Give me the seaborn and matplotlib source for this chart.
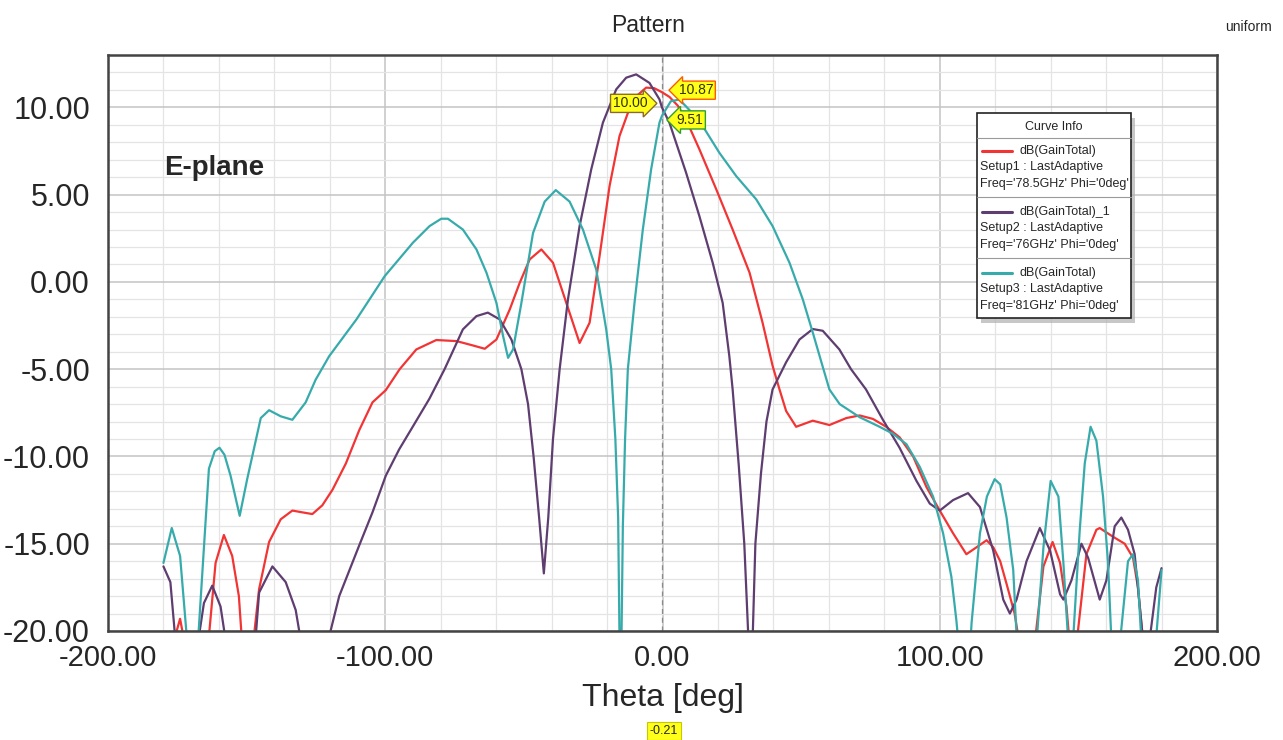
import numpy as np
import pandas as pd
import seaborn as sns
import matplotlib.pyplot as plt
from matplotlib.patches import Rectangle
from matplotlib.lines import Line2D

# E-plane gain pattern (values below -20 are off-scale nulls)
theta_81 = [-180, -177, -174, -171.5, -170, -167.5, -163.6, -161.5, -159.8, -158, -155.8, -152.5,
            -149.8, -144.9, -141.9, -137.7, -133.5, -128.7, -125.1, -120.2, -110.4, -100.2,
            -90.0, -84.0, -79.8, -77.4, -72.0, -67.1, -63.5, -59.9, -57.5, -55.7,
            -53.9, -51.0, -46.7, -42.5, -38.5, -33.5, -28.7, -23.9, -20.3, -18.5,
            -17.0, -16.0, -15.5, -15.2, -14.8, -14.3, -13.5, -12.5, -10.1, -7.1,
            -4.1, -1.1, -0.21, 3.0, 6.1, 10.0, 14.5, 20.5, 26.6, 33.8,
            39.7, 45.8, 50.6, 54.2, 57.5, 60.2, 63.9, 71.1, 78.3, 83.1,
            88.0, 92.8, 97.6, 101.2, 104.2, 106.0, 107.5, 109.0, 110.5, 111.5,
            114.5, 117.0, 119.8, 121.8, 124.1, 126.5, 127.8, 130.0, 133.0, 135.0,
            137.4, 140.0, 142.8, 144.6, 146.3, 147.2, 148.1, 150.5, 152.3, 154.4,
            156.5, 158.9, 160.7, 161.9, 163.3, 165.1, 167.9, 169.7, 171.5, 172.7,
            175.3, 178.0, 180]
gain_81 = [-16.1, -14.1, -15.7, -20.5, -24, -20.5, -10.7, -9.7, -9.5, -9.9, -11.1, -13.4,
           -11.3, -7.8, -7.35, -7.7, -7.9, -6.9, -5.6, -4.25, -2.15, 0.33,
           2.25, 3.2, 3.62, 3.62, 3.0, 1.86, 0.53, -1.2, -3.1, -4.35,
           -3.87, -1.3, 2.8, 4.6, 5.26, 4.6, 3.0, 0.71, -2.72, -5.0,
           -9.0, -13.5, -20.5, -28, -20.5, -14.0, -9.0, -5.0, -1.2, 3.0,
           6.45, 9.12, 9.51, 10.35, 10.45, 9.8, 8.93, 7.4, 6.06, 4.73,
           3.2, 1.1, -1.0, -2.9, -4.7, -6.16, -7.0, -7.75, -8.3, -8.7,
           -9.3, -10.6, -12.3, -14.4, -16.9, -19.4, -22, -26, -22, -19.5,
           -14.4, -12.3, -11.3, -11.6, -13.5, -16.5, -20.5, -26, -26, -20.5,
           -15.2, -11.4, -12.3, -16.1, -20.5, -24, -20.5, -14.2, -10.4, -8.3,
           -9.1, -12.3, -16.1, -20.5, -25, -20.5, -16.0, -15.6, -17.1, -20.5,
           -27, -20.5, -16.5]

theta_785 = [-180, -177, -174, -172, -169, -164, -161.2, -158.2, -155.2, -152.8,
             -151.5, -149.5, -147.5, -145.5, -141.9, -137.7, -133.5, -130, -126.3, -122.7,
             -119, -114.2, -109.4, -104.6, -99.8, -94.8, -88.8, -81.6, -74.3, -68.4,
             -64.1, -59.9, -55.1, -51.5, -47.9, -43.7, -39.5, -34.7, -29.9, -26.3,
             -22.7, -19.1, -15.5, -10.7, -5.9, -3.0, -0.21, 2.5, 5.5, 8.5,
             13.3, 19.4, 25.3, 31.4, 36.1, 39.7, 42.2, 44.6, 48.2, 54.2,
             60.2, 66.3, 71.1, 75.9, 80.7, 85.5, 90.4, 95.2, 100, 104.8,
             109.6, 113.3, 116.9, 119.3, 121.8, 124.1, 127, 129, 131.5, 134.4,
             137.4, 140.7, 143.4, 145.7, 147, 148.2, 149.5, 152.9, 156.5, 157.7,
             162.5, 166.7, 169.7, 171.5, 173.3, 176, 180]
gain_785 = [-24, -21, -19.3, -21, -26, -21, -16.1, -14.5, -15.7, -18.0,
            -21, -25, -20.5, -17.6, -14.9, -13.6, -13.1, -13.2, -13.3, -12.8,
            -11.9, -10.4, -8.5, -6.9, -6.2, -5.0, -3.87, -3.33, -3.39, -3.64,
            -3.83, -3.3, -1.58, -0.05, 1.29, 1.86, 1.1, -1.2, -3.5, -2.34,
            1.48, 5.49, 8.36, 10.46, 11.13, 11.1, 10.87, 10.6, 10.1, 9.3,
            7.6, 5.3, 3.0, 0.53, -2.34, -4.8, -6.16, -7.4, -8.3, -7.95,
            -8.2, -7.8, -7.65, -7.85, -8.3, -8.9, -10.0, -11.75, -13.1, -14.4,
            -15.6, -15.2, -14.8, -15.2, -16.0, -17.3, -19, -21, -25, -20.5,
            -16.3, -14.9, -16.1, -18.6, -21, -24, -20.5, -15.6, -14.2, -14.1,
            -14.6, -15.0, -15.8, -17.5, -20.5, -26, -24]

theta_76 = [-180, -177.5, -175.7, -173, -169, -167.2, -165.4, -162.4, -159.4, -157.6,
            -154, -149, -146.7, -145.5, -140.7, -135.9, -132.3, -130.5, -126, -121.5,
            -120.2, -116.6, -109.4, -104.6, -99.8, -95, -90.1, -84.1, -78.6, -72.0,
            -67.1, -63.0, -58.7, -54.5, -50.9, -48.5, -46.5, -44.5, -42.8, -41.2,
            -39.5, -37.1, -34.1, -29.9, -25.7, -21.5, -16.7, -13.1, -9.5, -4.7,
            -1.1, -0.21, 2.5, 8.5, 13.3, 18.1, 21.7, 24.1, 25.3, 27.5,
            29.5, 31.0, 31.6, 32.5, 33.5, 35.5, 37.5, 39.7, 44.6, 49.4,
            54.2, 57.8, 63.8, 68.0, 73.4, 79.5, 85.5, 91.6, 96.4, 100,
            104.8, 110.2, 114.5, 119.3, 122.9, 125.3, 127.7, 131.3, 136.1, 139.8,
            143.4, 144.6, 147.5, 151.1, 153.5, 157.7, 160.1, 163.1, 165.5, 167.9,
            170.3, 173.3, 174.5, 175.7, 178.1, 180]
gain_76 = [-16.3, -17.2, -20.5, -25, -22, -20.3, -18.4, -17.4, -18.6, -20.5,
           -26, -23, -20.3, -17.8, -16.3, -17.2, -18.8, -20.5, -26, -21.5,
           -20.3, -18.0, -15.1, -13.2, -11.1, -9.6, -8.3, -6.7, -5.0, -2.72,
           -1.96, -1.76, -2.15, -3.3, -5.0, -7.0, -10.0, -13.5, -16.7, -13.5,
           -9.0, -5.0, -1.0, 3.2, 6.45, 9.12, 11.03, 11.7, 11.89, 11.4,
           10.46, 10.0, 9.12, 6.26, 3.77, 1.1, -1.2, -4.25, -6.16, -10.5,
           -15.0, -20.5, -28, -20.5, -15.0, -11.0, -8.0, -6.16, -4.6, -3.3,
           -2.7, -2.8, -3.87, -5.0, -6.16, -7.9, -9.5, -11.4, -12.7, -13.1,
           -12.5, -12.1, -12.9, -15.4, -18.2, -19.0, -18.2, -16.0, -14.1, -15.4,
           -17.9, -18.2, -17.1, -15.0, -15.8, -18.2, -17.1, -14.0, -13.5, -14.2,
           -15.6, -20.5, -24, -20.5, -17.5, -16.4]

curve_names = ["dB(GainTotal) 78.5GHz", "dB(GainTotal)_1 76GHz", "dB(GainTotal) 81GHz"]
curve_colors = ["#f23434", "#5e3d70", "#37abab"]
legend_lines = [
    ["dB(GainTotal)", "Setup1 : LastAdaptive", "Freq='78.5GHz' Phi='0deg'"],
    ["dB(GainTotal)_1", "Setup2 : LastAdaptive", "Freq='76GHz' Phi='0deg'"],
    ["dB(GainTotal)", "Setup3 : LastAdaptive", "Freq='81GHz' Phi='0deg'"],
]
marker_theta = -0.21
marker_vals = [10.87, 10.00, 9.51]

df = pd.concat([
    pd.DataFrame({"theta": theta_785, "gain": gain_785, "curve": curve_names[0]}),
    pd.DataFrame({"theta": theta_76, "gain": gain_76, "curve": curve_names[1]}),
    pd.DataFrame({"theta": theta_81, "gain": gain_81, "curve": curve_names[2]}),
])

sns.set_style("white")
plt.rcParams["font.family"] = ["Liberation Sans", "DejaVu Sans"]
plt.rcParams["axes.unicode_minus"] = False

W, H = 1283, 740
fig = plt.figure(figsize=(W / 100, H / 100), dpi=100)
ax = fig.add_axes([108 / W, 1 - 631 / H, (1217 - 108) / W, (631 - 55) / H])


def fx(px):
    return px / W


def fy(py):
    return 1 - py / H


sns.lineplot(data=df, x="theta", y="gain", hue="curve", hue_order=curve_names,
             palette=curve_colors, linewidth=1.6, legend=False, errorbar=None, ax=ax)

ax.set_xlim(-200, 200)
ax.set_ylim(-20, 13)
ax.set_xticks(np.arange(-200, 201, 100))
ax.set_xticks(np.arange(-200, 201, 20), minor=True)
ax.set_yticks(np.arange(-20, 11, 5))
ax.set_yticks(np.arange(-20, 14, 1), minor=True)
ax.set_xticklabels([f"{v:.2f}" for v in np.arange(-200, 201, 100)], fontsize=21)
ax.set_yticklabels([f"{v:.2f}" for v in np.arange(-20, 11, 5)], fontsize=22)
ax.grid(which="major", color="#c4c4c4", lw=1.1)
ax.grid(which="minor", color="#e4e4e4", lw=0.9)
ax.set_axisbelow(True)
ax.tick_params(which="major", direction="out", length=7, width=1.2, color="#444444")
ax.tick_params(which="minor", direction="out", length=4, width=1.0, color="#444444")
ax.tick_params(axis="x", which="major", pad=2)
ax.tick_params(axis="y", which="major", pad=6)
for s in ax.spines.values():
    s.set_color("#444444")
    s.set_linewidth(1.8)
ax.set_xlabel("Theta [deg]", fontsize=23, labelpad=8)
ax.set_ylabel("")

# marker line and tags
ax.axvline(marker_theta, color="#8a8a8a", lw=0.9, ls=(0, (4, 3)), zorder=1)
tag_style = [("larrow", "#ff5a00", (34, 2)), ("rarrow", "#8a6a2a", (-32, 4)), ("larrow", "#2ca02c", (28, -4))]
for v, (box, ec, off) in zip(marker_vals, tag_style):
    ax.annotate(f"{v:.2f}", xy=(marker_theta, v), xytext=off, textcoords="offset pixels",
                ha="center", va="center", fontsize=10, color="#333300",
                bbox=dict(boxstyle=f"{box},pad=0.15", fc="#ffff1a", ec=ec, lw=1.0), zorder=6)

ax.text(0.051, 0.804, "E-plane", transform=ax.transAxes, fontsize=20, fontweight="bold",
        va="center", ha="left")

fig.text(fx(648), fy(25), "Pattern", fontsize=16.5, ha="center", va="center")
fig.text(fx(1248), fy(27), "uniform", fontsize=10, ha="center", va="center")
fig.text(fx(664), fy(731), "-0.21", fontsize=9, ha="center", va="center",
         bbox=dict(boxstyle="square,pad=0.25", fc="#ffff1a", ec="#c8c800", lw=0.8))

# Curve Info box
bx0, bx1, by0, by1 = 977, 1131, 113, 318
fig.patches.append(Rectangle((fx(bx0 + 4), fy(by1 + 5)), fx(bx1 - bx0), (by1 - by0) / H,
                             transform=fig.transFigure, fc="#b0b0b0", ec="none", alpha=0.7, zorder=8))
fig.patches.append(Rectangle((fx(bx0), fy(by1)), fx(bx1 - bx0), (by1 - by0) / H,
                             transform=fig.transFigure, fc="white", ec="#222222", lw=1.2, zorder=9))
fig.text(fx((bx0 + bx1) / 2), fy(127), "Curve Info", fontsize=9, ha="center", va="center", zorder=10)
for sep in [138, 197, 258]:
    fig.lines.append(Line2D([fx(bx0), fx(bx1)], [fy(sep), fy(sep)], transform=fig.transFigure,
                            color="#9a9a9a", lw=0.8, zorder=10))
for i, (lines, col) in enumerate(zip(legend_lines, curve_colors)):
    top = 151 + i * 61
    fig.lines.append(Line2D([fx(982), fx(1012)], [fy(top), fy(top)], transform=fig.transFigure,
                            color=col, lw=2.2, zorder=10))
    fig.text(fx(1019), fy(top), lines[0], fontsize=9, ha="left", va="center", zorder=10)
    fig.text(fx(980), fy(top + 16), lines[1], fontsize=9, ha="left", va="center", zorder=10)
    fig.text(fx(980), fy(top + 33), lines[2], fontsize=9, ha="left", va="center", zorder=10)

fig.savefig("out.png", dpi=100, facecolor="white")
